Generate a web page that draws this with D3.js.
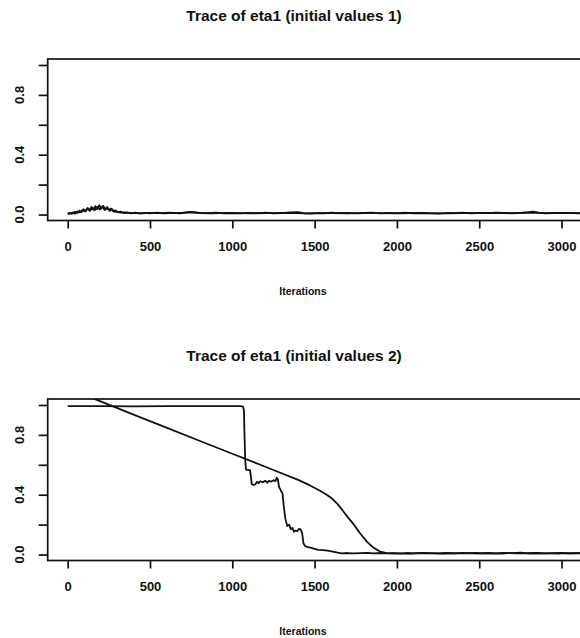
<!DOCTYPE html>
<html>
<head>
<meta charset="utf-8">
<script src="https://cdn.jsdelivr.net/npm/d3@7"></script>
<style>
  html, body { margin: 0; padding: 0; background: #fff; }
  svg { display: block; }
  text { font-family: "Liberation Sans", Arial, Helvetica, sans-serif; font-weight: bold; fill: #111; }
</style>
</head>
<body>
<svg id="chart" width="580" height="638"></svg>
<script>
// ---- data -------------------------------------------------------------
const panelTitles = ["Trace of eta1 (initial values 1)", "Trace of eta1 (initial values 2)"];
const xLabel = "Iterations";
const xTicks = [0, 500, 1000, 1500, 2000, 2500, 3000];
const yTicks = [0, 0.2, 0.4, 0.6, 0.8, 1.0];
const yTickLabels = ["0.0", "", "0.4", "", "0.8", ""];

// panel 1, chain 1: [iteration, eta1]
const run1Chain1 = [
  [0,0.006],[12,0.010],[24,0.004],[36,0.014],[48,0.018],[60,0.010],[72,0.026],[84,0.016],
  [96,0.036],[108,0.022],[120,0.044],[132,0.028],[144,0.050],[156,0.032],[168,0.056],[180,0.036],
  [192,0.062],[204,0.040],[216,0.058],[228,0.036],[240,0.050],[252,0.030],[264,0.040],[276,0.022],
  [290,0.028],[305,0.014],[320,0.020],[340,0.010],[360,0.014],[385,0.008],[410,0.012],[440,0.007],
  [470,0.011],[500,0.008],[540,0.012],[580,0.007],[620,0.010],[660,0.009],[700,0.013],[740,0.018],
  [770,0.016],[800,0.011],[850,0.009],[900,0.012],[950,0.007],[1000,0.010],[1050,0.008],[1100,0.011],
  [1150,0.009],[1200,0.012],[1250,0.008],[1300,0.010],[1350,0.014],[1400,0.016],[1440,0.008],[1480,0.006],
  [1520,0.010],[1560,0.008],[1600,0.012],[1650,0.009],[1700,0.011],[1750,0.007],[1800,0.010],[1850,0.012],
  [1900,0.008],[1950,0.010],[2000,0.009],[2050,0.012],[2100,0.008],[2150,0.010],[2200,0.007],[2250,0.006],
  [2300,0.010],[2350,0.009],[2400,0.012],[2450,0.008],[2500,0.011],[2550,0.009],[2600,0.012],[2650,0.010],
  [2700,0.008],[2750,0.011],[2800,0.016],[2830,0.020],[2860,0.012],[2900,0.008],[2950,0.010],[3000,0.009],
  [3050,0.011],[3100,0.008],[3160,0.010]
];
// panel 1, chain 2
const run1Chain2 = [
  [0,0.004],[15,0.008],[30,0.012],[45,0.006],[60,0.020],[75,0.014],[90,0.030],[105,0.020],
  [120,0.038],[135,0.024],[150,0.046],[165,0.030],[180,0.050],[195,0.034],[210,0.052],[225,0.030],
  [240,0.044],[255,0.024],[270,0.034],[285,0.018],[300,0.020],[320,0.012],[345,0.015],[370,0.009],
  [400,0.010],[450,0.008],[500,0.011],[560,0.009],[620,0.012],[680,0.008],[740,0.014],[800,0.010],
  [880,0.008],[960,0.011],[1040,0.009],[1120,0.008],[1200,0.010],[1280,0.009],[1360,0.011],[1440,0.007],
  [1520,0.009],[1600,0.010],[1700,0.008],[1800,0.011],[1900,0.009],[2000,0.008],[2100,0.010],[2200,0.009],
  [2300,0.008],[2400,0.010],[2500,0.009],[2600,0.011],[2700,0.009],[2800,0.012],[2900,0.009],[3000,0.010],
  [3100,0.009],[3160,0.009]
];

// panel 2, chain A: held near 1 then stepwise collapse
const run2ChainA = [
  [0,0.992],[200,0.993],[400,0.991],[600,0.992],[800,0.993],[1000,0.992],[1055,0.992],[1066,0.988],
  [1071,0.960],[1074,0.800],[1078,0.640],[1083,0.568],[1095,0.566],[1108,0.562],[1113,0.520],[1118,0.472],
  [1128,0.465],[1140,0.470],[1150,0.486],[1160,0.478],[1170,0.490],[1185,0.483],[1200,0.494],[1212,0.480],
  [1222,0.493],[1236,0.487],[1250,0.497],[1262,0.491],[1270,0.514],[1277,0.500],[1284,0.452],[1296,0.425],
  [1305,0.410],[1312,0.330],[1322,0.240],[1334,0.190],[1345,0.200],[1355,0.170],[1365,0.178],[1375,0.152],
  [1385,0.160],[1395,0.156],[1405,0.172],[1415,0.168],[1425,0.140],[1432,0.075],[1442,0.056],[1460,0.050],
  [1480,0.044],[1500,0.038],[1522,0.031],[1550,0.029],[1580,0.026],[1610,0.020],[1640,0.013],[1665,0.008],
  [1700,0.010],[1740,0.007],[1780,0.009],[1820,0.011],[1860,0.008],[1900,0.010],[1940,0.007],[1980,0.009],
  [2020,0.006],[2060,0.010],[2100,0.008],[2150,0.011],[2200,0.009],[2250,0.007],[2300,0.010],[2350,0.008],
  [2400,0.011],[2450,0.009],[2500,0.008],[2550,0.010],[2600,0.007],[2650,0.011],[2700,0.009],[2750,0.012],
  [2800,0.008],[2850,0.010],[2900,0.007],[2950,0.009],[3000,0.010],[3050,0.008],[3100,0.010],[3160,0.009]
];
// panel 2, chain B: straight decline from above the axis range, then a smooth drop
const run2ChainB = [
  [0,1.111],[200,1.024],[400,0.936],[600,0.849],[800,0.761],[1000,0.674],[1200,0.587],[1400,0.499],
  [1472,0.462],[1530,0.428],[1573,0.400],[1604,0.376],[1640,0.337],[1675,0.288],[1705,0.245],[1735,0.205],
  [1776,0.142],[1817,0.086],[1857,0.046],[1898,0.020],[1938,0.009],[1980,0.007],[2030,0.008],[2080,0.006],
  [2130,0.009],[2180,0.007],[2230,0.008],[2280,0.006],[2330,0.009],[2380,0.007],[2430,0.008],[2480,0.010],
  [2530,0.007],[2580,0.008],[2630,0.006],[2680,0.009],[2730,0.007],[2780,0.008],[2830,0.010],[2880,0.007],
  [2930,0.008],[2980,0.006],[3030,0.009],[3080,0.007],[3160,0.008]
];

const panels = [
  { title: panelTitles[0], chains: [run1Chain2, run1Chain1], top: 59 },
  { title: panelTitles[1], chains: [run2ChainA, run2ChainB], top: 399 }
];

// ---- layout -----------------------------------------------------------
const svg = d3.select("#chart");
const plotLeft = 47.7, plotRight = 587.7, plotH = 161.5;
const x = d3.scaleLinear().domain([-121.5, 3159]).range([plotLeft, plotRight]);
const ink = "#111";

panels.forEach((p, i) => {
  const top = p.top, bottom = top + plotH;
  const y = d3.scaleLinear().domain([-0.04, 1.04]).range([bottom, top]);
  const g = svg.append("g");

  const clipId = "clip" + i;
  g.append("clipPath").attr("id", clipId)
    .append("rect").attr("x", plotLeft).attr("y", top)
    .attr("width", plotRight - plotLeft).attr("height", plotH);

  // traces
  const line = d3.line().x(d => x(d[0])).y(d => y(d[1]));
  g.append("g").attr("clip-path", `url(#${clipId})`)
    .selectAll("path").data(p.chains).join("path")
    .attr("d", line)
    .attr("fill", "none")
    .attr("stroke", ink)
    .attr("stroke-width", 1.8)
    .attr("stroke-linejoin", "round");

  // frame
  g.append("rect")
    .attr("x", plotLeft).attr("y", top)
    .attr("width", plotRight - plotLeft).attr("height", plotH)
    .attr("fill", "none").attr("stroke", ink).attr("stroke-width", 1.7);

  // x axis
  const xAxis = g.append("g")
    .attr("transform", `translate(0,${bottom})`)
    .call(d3.axisBottom(x).tickValues(xTicks).tickFormat(d3.format("d")).tickSize(8).tickPadding(13));
  xAxis.select(".domain").remove();
  xAxis.selectAll(".tick line").attr("stroke", ink).attr("stroke-width", 1.7);
  xAxis.selectAll(".tick text")
    .attr("font-size", 13).attr("font-family", "Liberation Sans, Arial, sans-serif")
    .attr("font-weight", "bold").attr("fill", ink);

  // y axis
  const yAxis = g.append("g")
    .attr("transform", `translate(${plotLeft},0)`)
    .call(d3.axisLeft(y).tickValues(yTicks).tickFormat((d, k) => yTickLabels[k]).tickSize(9));
  yAxis.select(".domain").remove();
  yAxis.selectAll(".tick line").attr("stroke", ink).attr("stroke-width", 1.7);
  yAxis.selectAll(".tick text").remove();
  g.selectAll("text.ylab").data(yTicks.filter((d, k) => yTickLabels[k] !== ""))
    .join("text").attr("class", "ylab")
    .attr("transform", d => `translate(19,${y(d)}) rotate(-90)`)
    .attr("text-anchor", "middle").attr("dominant-baseline", "central")
    .attr("font-size", 13)
    .text(d => d.toFixed(1));

  // title
  g.append("text")
    .attr("x", 294).attr("y", top - 38)
    .attr("text-anchor", "middle").attr("font-size", 15.5)
    .text(p.title);

  // x label
  g.append("text")
    .attr("x", 303).attr("y", bottom + 74)
    .attr("text-anchor", "middle").attr("font-size", 10.5)
    .text(xLabel);
});
</script>
</body>
</html>
